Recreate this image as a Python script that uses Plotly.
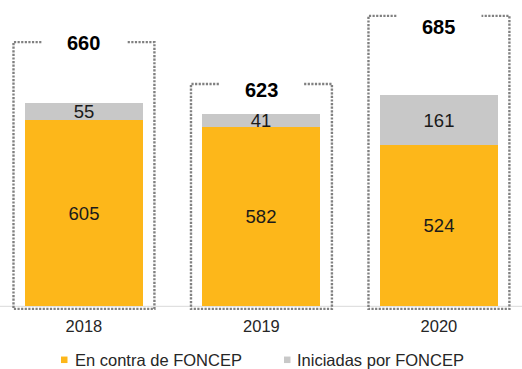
import plotly.graph_objects as go

# Data
years = ["2018", "2019", "2020"]
series_names = ["En contra de FONCEP", "Iniciadas por FONCEP"]
en_contra = [605, 582, 524]
iniciadas = [55, 41, 161]
totals = [a + b for a, b in zip(en_contra, iniciadas)]

# Styling / layout
COLORS = ["#FDB71A", "#C8C8C8"]
FONT = "Liberation Sans, Arial, sans-serif"
W, H = 522, 369
M_L, M_R, M_T, M_B = 0, 0, 0, 59.3
Y_RANGE = [-12, 993.5]
X_RANGE = [-0.473, 2.468]
BAR_W = 0.665
FRAME_HALF = 0.397
FRAME_GAP = 0.24
FRAME_BOTTOM = -8.8
frame_tops = [857, 721, 942]
total_label_y = [853, 702, 907]

plot_w = W - M_L - M_R
plot_h = H - M_T - M_B


def px_x(p):
    return (p - M_L) / plot_w


def px_y(p):
    return (H - M_B - p) / plot_h


xs = list(range(len(years)))

fig = go.Figure()
for name, vals, col in zip(series_names, [en_contra, iniciadas], COLORS):
    fig.add_trace(go.Bar(
        x=xs, y=vals, name=name, width=BAR_W,
        marker=dict(color=col, line=dict(width=0)),
        text=[str(v) for v in vals], textposition="inside",
        insidetextanchor="middle", textangle=0,
        textfont=dict(family=FONT, size=18.5, color="#1a1a1a"),
        showlegend=False, hoverinfo="skip",
    ))

shapes = []
# baseline
shapes.append(dict(type="line", xref="paper", yref="y", x0=0, x1=1, y0=0, y1=0,
                   line=dict(color="#D9D9D9", width=1), layer="below"))
# dotted frames around each column, open at the top for the total label
for x, top in zip(xs, frame_tops):
    l, r = x - FRAME_HALF, x + FRAME_HALF
    path = (f"M{x - FRAME_GAP},{top} L{l},{top} L{l},{FRAME_BOTTOM} "
            f"L{r},{FRAME_BOTTOM} L{r},{top} L{x + FRAME_GAP},{top}")
    shapes.append(dict(type="path", xref="x", yref="y", path=path,
                       line=dict(color="#808080", width=2.4, dash="2.2px,1.4px")))

annotations = []
for x, t, ly in zip(xs, totals, total_label_y):
    annotations.append(dict(x=x, y=ly, xref="x", yref="y", text=f"<b>{t}</b>",
                            showarrow=False, xanchor="center", yanchor="middle",
                            font=dict(family=FONT, size=20, color="#000000")))

# legend drawn as small squares with labels
legend_pos = [(61, 72.7), (284, 295)]
for (sq_x, tx), name, col in zip(legend_pos, series_names, COLORS):
    shapes.append(dict(type="rect", xref="paper", yref="paper",
                       x0=px_x(sq_x), x1=px_x(sq_x + 6.5),
                       y0=px_y(362.7), y1=px_y(356.2),
                       fillcolor=col, line=dict(width=0)))
    annotations.append(dict(x=px_x(tx), y=px_y(359.5), xref="paper", yref="paper",
                            text=name, showarrow=False, xanchor="left",
                            yanchor="middle",
                            font=dict(family=FONT, size=16.5, color="#262626")))

fig.update_layout(
    width=W, height=H,
    margin=dict(l=M_L, r=M_R, t=M_T, b=M_B, pad=0),
    paper_bgcolor="white", plot_bgcolor="white",
    barmode="stack", bargap=0,
    uniformtext=dict(mode="show", minsize=18.5),
    showlegend=False,
    xaxis=dict(range=X_RANGE, tickvals=xs, ticktext=years, showgrid=False,
               zeroline=False, showline=False, ticks="",
               tickfont=dict(family=FONT, size=16.5, color="#262626"),
               ticklabelstandoff=4),
    yaxis=dict(range=Y_RANGE, visible=False, showgrid=False, zeroline=False),
    shapes=shapes, annotations=annotations,
)

fig.write_html("out.html")
